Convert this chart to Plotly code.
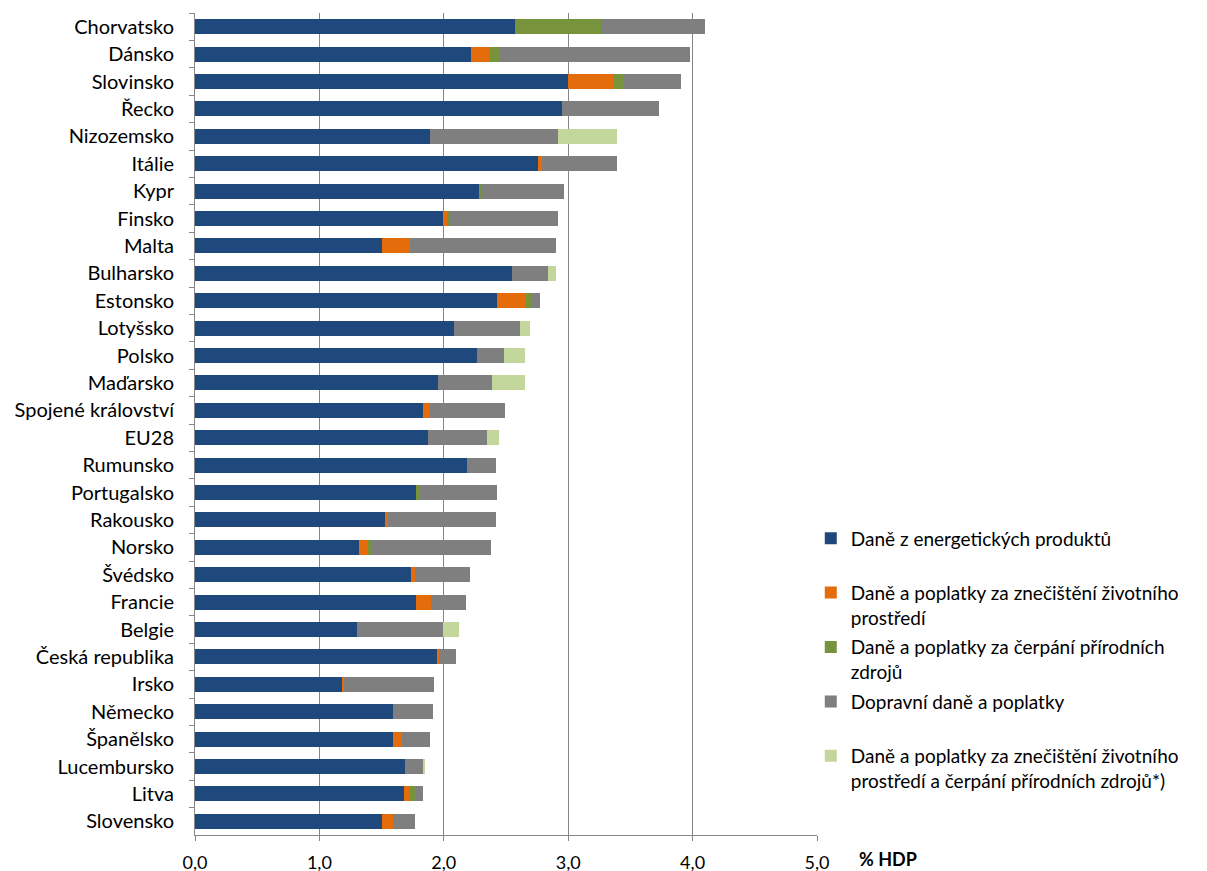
import plotly.graph_objects as go

countries = ["Chorvatsko", "Dánsko", "Slovinsko", "Řecko", "Nizozemsko", "Itálie", "Kypr",
             "Finsko", "Malta", "Bulharsko", "Estonsko", "Lotyšsko", "Polsko", "Maďarsko",
             "Spojené království", "EU28", "Rumunsko", "Portugalsko", "Rakousko", "Norsko",
             "Švédsko", "Francie", "Belgie", "Česká republika", "Irsko", "Německo",
             "Španělsko", "Lucembursko", "Litva", "Slovensko"]

energy = [2.57, 2.22, 3.00, 2.95, 1.89, 2.76, 2.29, 1.99, 1.50, 2.55, 2.43, 2.08, 2.27, 1.95,
          1.83, 1.87, 2.19, 1.78, 1.53, 1.32, 1.74, 1.78, 1.30, 1.95, 1.18, 1.59, 1.59, 1.69,
          1.68, 1.50]
pollution = [0.00, 0.14, 0.37, 0.00, 0.00, 0.03, 0.00, 0.04, 0.23, 0.00, 0.23, 0.00, 0.00, 0.00,
             0.06, 0.00, 0.00, 0.00, 0.02, 0.07, 0.03, 0.12, 0.00, 0.01, 0.02, 0.00, 0.07, 0.00,
             0.04, 0.09]
resources = [0.69, 0.08, 0.08, 0.00, 0.00, 0.00, 0.01, 0.01, 0.00, 0.00, 0.04, 0.00, 0.00, 0.00,
             0.00, 0.00, 0.00, 0.02, 0.00, 0.03, 0.00, 0.00, 0.00, 0.00, 0.00, 0.00, 0.00, 0.00,
             0.06, 0.00]
transport = [0.84, 1.54, 0.46, 0.78, 1.03, 0.60, 0.67, 0.88, 1.17, 0.29, 0.07, 0.53, 0.21, 0.44,
             0.60, 0.48, 0.23, 0.63, 0.87, 0.96, 0.44, 0.28, 0.69, 0.14, 0.72, 0.32, 0.23, 0.15,
             0.05, 0.18]
combined = [0.00, 0.00, 0.00, 0.00, 0.47, 0.00, 0.00, 0.00, 0.00, 0.06, 0.00, 0.08, 0.17, 0.26,
            0.00, 0.09, 0.00, 0.00, 0.00, 0.00, 0.00, 0.00, 0.13, 0.00, 0.00, 0.00, 0.00, 0.01,
            0.00, 0.00]

series_names = [
    "Daně z energetických produktů<br> ",
    "Daně a poplatky za znečištění životního<br>prostředí",
    "Daně a poplatky za čerpání přírodních<br>zdrojů",
    "Dopravní daně a poplatky<br> ",
    "Daně a poplatky za znečištění životního<br>prostředí a čerpání přírodních zdrojů*)",
]
series_values = [energy, pollution, resources, transport, combined]
colors = ["#1F497D", "#E46C0A", "#77933C", "#7F7F7F", "#C3D69B"]

FONT = "Lato"

fig = go.Figure()
for i, (name, vals, col) in enumerate(zip(series_names, series_values, colors)):
    fig.add_trace(go.Bar(
        y=countries, x=vals, name=name, orientation="h",
        marker=dict(color=col, line=dict(width=0)),
        legendgroup=str(i),
    ))

fig.update_layout(
    width=1207, height=871,
    barmode="stack", bargap=0.45,
    plot_bgcolor="white", paper_bgcolor="white",
    margin=dict(l=187, r=398, t=5, b=44, autoexpand=False),
    font=dict(family=FONT, color="#000000", size=18),
    separators=",.",
    legend=dict(
        x=0.99, xanchor="left", y=0.384, yanchor="top",
        font=dict(family=FONT, size=19, color="#000000"),
        traceorder="grouped", tracegroupgap=2,
        valign="top", itemwidth=30,
        bgcolor="rgba(0,0,0,0)",
    ),
    xaxis=dict(
        range=[0, 5], dtick=1, tickformat=".1f",
        showgrid=True, gridcolor="#868686", gridwidth=1,
        showline=True, linecolor="#868686", linewidth=1,
        ticks="outside", ticklen=5, tickcolor="#868686",
        zeroline=False, ticklabelstandoff=6,
        tickfont=dict(family=FONT, size=18, color="#000000"),
    ),
    yaxis=dict(
        autorange="reversed", type="category", automargin=False,
        showline=True, linecolor="#868686", linewidth=1,
        ticks="outside", ticklen=5, tickcolor="#868686",
        tickson="boundaries", showgrid=False, ticklabelstandoff=16,
        tickfont=dict(family=FONT, size=20, color="#000000"),
    ),
    annotations=[dict(
        text="<b>% HDP</b>", xref="paper", yref="paper", x=1.064, y=0, yshift=-24,
        xanchor="left", yanchor="middle", showarrow=False,
        font=dict(family=FONT, size=18, color="#000000"),
    )],
)

fig.write_html("out.html")
